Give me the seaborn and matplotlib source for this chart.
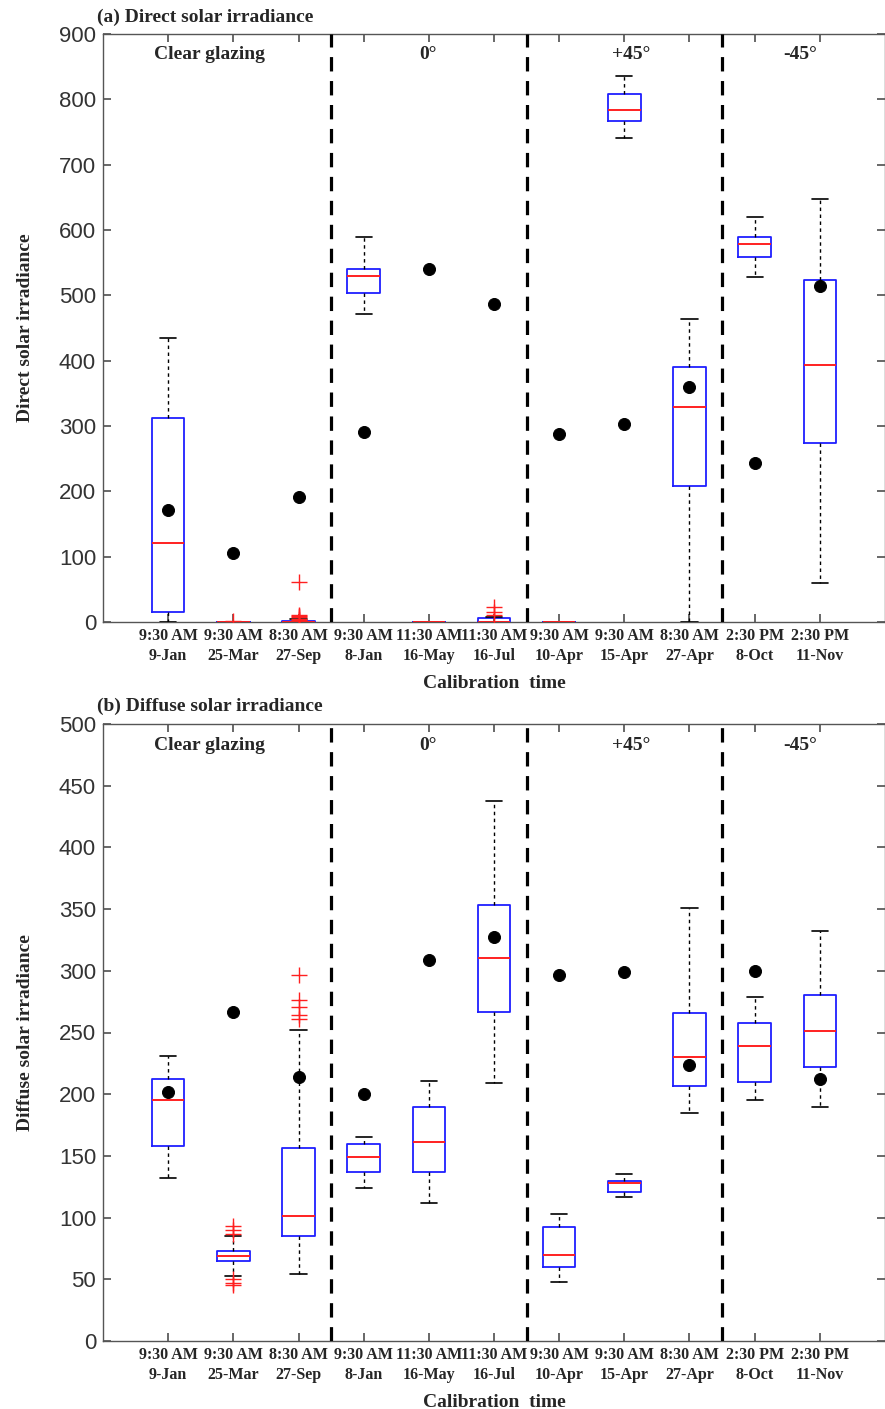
import numpy as np
import pandas as pd
import matplotlib
matplotlib.use("Agg")
import matplotlib.pyplot as plt
import seaborn as sns

# ---------------- data ----------------
categories = ["9:30 AM\n9-Jan", "9:30 AM\n25-Mar", "8:30 AM\n27-Sep",
              "9:30 AM\n8-Jan", "11:30 AM\n16-May", "11:30 AM\n16-Jul",
              "9:30 AM\n10-Apr", "9:30 AM\n15-Apr", "8:30 AM\n27-Apr",
              "2:30 PM\n8-Oct", "2:30 PM\n11-Nov"]
groups = ["Clear glazing", "0°", "+45°", "-45°"]
group_label_pos = [0.64, 3.98, 7.1, 9.7]
separators = [2.5, 5.5, 8.5]

# panel (a) direct: five-number summaries (lower whisker, Q1, median, Q3, upper whisker)
direct_whislo = [0, 0, 0, 471, 0, 0, 0, 741, 0, 528, 60]
direct_q1     = [15, 0, 0, 503, 0, 0, 0, 767, 208, 559, 274]
direct_med    = [121, 0, 0, 530, 0, 0, 0, 784, 329, 579, 393]
direct_q3     = [312, 0, 2, 540, 0, 6, 0, 808, 390, 589, 523]
direct_whishi = [434, 0, 4, 589, 0, 8, 0, 836, 464, 620, 648]
direct_mean   = [172, 106, 191, 291, 540, 487, 288, 303, 360, 243, 514]
direct_flier_cat = [1, 2, 2, 2, 2, 2, 2, 5, 5, 5]
direct_flier_val = [2, 3, 5, 7, 9, 11, 61, 11, 15, 23]

# panel (b) diffuse
diffuse_whislo = [132, 53, 54, 124, 112, 209, 48, 117, 185, 195, 190]
diffuse_q1     = [158, 65, 85, 137, 137, 267, 60, 121, 207, 210, 222]
diffuse_med    = [195, 69, 101, 149, 161, 310, 70, 128, 230, 239, 251]
diffuse_q3     = [212, 73, 156, 160, 190, 353, 92, 130, 266, 258, 280]
diffuse_whishi = [231, 85, 252, 165, 211, 438, 103, 135, 351, 279, 332]
diffuse_mean   = [202, 267, 214, 200, 309, 327, 297, 299, 224, 300, 212]
diffuse_flier_cat = [1, 1, 1, 1, 1, 1, 2, 2, 2, 2, 2]
diffuse_flier_val = [93, 90, 87, 50, 47, 45, 297, 276, 271, 264, 261]

panel_titles = ["(a) Direct solar irradiance", "(b) Diffuse solar irradiance"]
ylabels = ["Direct solar irradiance", "Diffuse solar irradiance"]
xlabel = "Calibration  time"
ylims = [(0, 900), (0, 500)]
ysteps = [100, 50]

# ---------------- style ----------------
sns.set_theme(style="ticks")
plt.rcParams["font.family"] = ["Liberation Sans", "DejaVu Sans"]
plt.rcParams["xtick.direction"] = "in"
plt.rcParams["ytick.direction"] = "in"
serif = ["Liberation Serif", "DejaVu Serif"]

fig = plt.figure(figsize=(8.85, 14.09), dpi=100)
W, H = 885, 1409
ax_a = fig.add_axes([103 / W, 1 - 622 / H, 782 / W, (622 - 34) / H])
ax_b = fig.add_axes([103 / W, 1 - 1341 / H, 782 / W, (1341 - 724) / H])

panels = [
    (ax_a, direct_whislo, direct_q1, direct_med, direct_q3, direct_whishi,
     direct_mean, direct_flier_cat, direct_flier_val),
    (ax_b, diffuse_whislo, diffuse_q1, diffuse_med, diffuse_q3, diffuse_whishi,
     diffuse_mean, diffuse_flier_cat, diffuse_flier_val),
]

for i, (ax, wlo, q1, med, q3, whi, mean, fcat, fval) in enumerate(panels):
    rows = []
    for c, a, b, m, d, e in zip(categories, wlo, q1, med, q3, whi):
        for v in (a, b, m, d, e):
            rows.append({"cat": c, "val": v})
    df = pd.DataFrame(rows)
    sns.boxplot(data=df, x="cat", y="val", order=categories, ax=ax,
                whis=(0, 100), showfliers=False, width=0.5, fill=False,
                color="#1f1fff",
                boxprops=dict(color="#1f1fff", linewidth=1.3),
                medianprops=dict(color="#ff2020", linewidth=1.4),
                whiskerprops=dict(color="black", linestyle=(0, (2.5, 2.5)), linewidth=1.0),
                capprops=dict(color="black", linewidth=1.2))
    for ln in ax.lines:
        ln.set_zorder(3.5)
    pos = np.arange(len(categories))
    # outliers (red plus)
    ax.scatter(pos[np.array(fcat)], fval, marker="+", s=120, color="#ff2020",
               linewidths=1.0, zorder=4)
    # mean markers (black dots)
    sns.scatterplot(x=pos, y=mean, ax=ax, color="black", s=75,
                    edgecolor="black", zorder=5, legend=False)
    # group separators
    for s in separators:
        ax.axvline(s, color="black", linestyle=(0, (4.5, 3)), linewidth=2.3, zorder=3)
    ylo, yhi = ylims[i]
    ax.set_xlim(-1, 11)
    ax.set_ylim(ylo, yhi)
    ax.set_yticks(np.arange(ylo, yhi + 1, ysteps[i]))
    ax.set_xticks(pos)
    ax.set_xticklabels(categories, fontfamily=serif, fontweight="bold",
                       fontsize=11.5, linespacing=1.35)
    ax.tick_params(axis="y", labelsize=16, labelcolor="#333333", length=6,
                   left=True, right=True, color="#555555", pad=5)
    ax.tick_params(axis="x", length=6, top=True, bottom=True, pad=4,
                   color="#555555")
    for sp in ax.spines.values():
        sp.set_visible(True)
        sp.set_color("#555555")
        sp.set_linewidth(1.0)
    ax.set_xlabel(xlabel, fontfamily=serif, fontweight="bold", fontsize=14,
                  labelpad=8)
    ax.set_ylabel(ylabels[i], fontfamily=serif, fontweight="bold", fontsize=14,
                  labelpad=18)
    ax.text(-0.008, 1.014, panel_titles[i], transform=ax.transAxes,
            fontfamily=serif, fontweight="bold", fontsize=14,
            ha="left", va="bottom")
    for g, gp in zip(groups, group_label_pos):
        ax.text(gp, yhi - (yhi - ylo) * 0.035, g, fontfamily=serif,
                fontweight="bold", fontsize=14, ha="center", va="center")
    ax.grid(False)

fig.savefig("out.png", dpi=100)
